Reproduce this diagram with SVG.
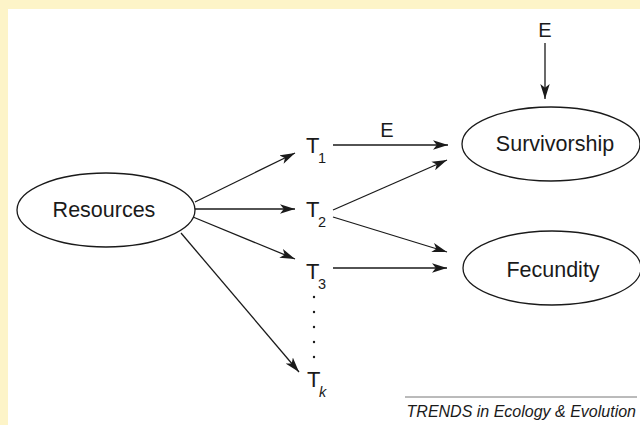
<svg xmlns="http://www.w3.org/2000/svg" width="640" height="425" viewBox="0 0 640 425">
<style>
.lbl{font-family:"Liberation Sans",Arial,sans-serif;font-size:21.5px;fill:#1a1a1a}
.t{font-family:"Liberation Sans",Arial,sans-serif;font-size:22px;fill:#1a1a1a}
.sub{font-family:"Liberation Sans",Arial,sans-serif;font-size:14.5px;fill:#1a1a1a}
.node{fill:#fff;stroke:#1a1a1a;stroke-width:1.3}
.c{stroke:#1a1a1a;stroke-width:1.3;fill:none;marker-end:url(#ah)}
</style>
<defs>
<marker id="ah" viewBox="0 0 15 10" refX="15" refY="5" markerWidth="15" markerHeight="10" markerUnits="userSpaceOnUse" orient="auto">
<path d="M0,0.3 L15,5 L0,9.7 L3.8,5 z" fill="#1a1a1a"/>
</marker>
</defs>
<rect x="0" y="0" width="640" height="425" fill="#fdf4c8"/>
<rect x="8" y="9" width="632" height="416" fill="#fff"/>
<g id="connectors">
<line class="c" x1="195" y1="202" x2="295" y2="153"/>
<line class="c" x1="195" y1="209" x2="295" y2="209"/>
<line class="c" x1="193" y1="217" x2="295" y2="259"/>
<line class="c" x1="181" y1="233" x2="299" y2="372"/>
<line class="c" x1="333" y1="145" x2="448" y2="145"/>
<line class="c" x1="333" y1="210" x2="447" y2="160"/>
<line class="c" x1="333" y1="217" x2="447" y2="252"/>
<line class="c" x1="333" y1="268" x2="447" y2="268"/>
<line class="c" x1="545" y1="43" x2="545" y2="99"/>
<text class="lbl" x="387" y="137" text-anchor="middle" style="font-size:20px">E</text>
</g>
<g id="resources">
<ellipse class="node" cx="106" cy="210" rx="89" ry="37"/>
<text class="lbl" x="104" y="217" text-anchor="middle">Resources</text>
</g>
<g id="survivorship">
<ellipse class="node" cx="551" cy="144" rx="89" ry="37"/>
<text class="lbl" x="555" y="151" text-anchor="middle">Survivorship</text>
</g>
<g id="fecundity">
<ellipse class="node" cx="552" cy="268" rx="89" ry="37"/>
<text class="lbl" x="553" y="277" text-anchor="middle">Fecundity</text>
</g>
<g id="E-top">
<text class="lbl" x="545" y="37" text-anchor="middle" style="font-size:20px">E</text>
</g>
<g id="T1"><text class="t" x="306" y="153">T</text><text class="sub" x="318" y="163">1</text></g>
<g id="T2"><text class="t" x="306" y="217">T</text><text class="sub" x="318" y="227">2</text></g>
<g id="T3"><text class="t" x="306" y="279">T</text><text class="sub" x="318" y="289">3</text></g>
<g id="dots" fill="#1a1a1a">
<circle cx="314" cy="297" r="1.2"/>
<circle cx="314" cy="312" r="1.2"/>
<circle cx="314" cy="327" r="1.2"/>
<circle cx="314" cy="342" r="1.2"/>
<circle cx="314" cy="357" r="1.2"/>
</g>
<g id="Tk"><text class="t" x="307" y="387">T</text><text class="sub" x="319" y="397" font-style="italic">k</text></g>
<g id="footer">
<line x1="405" y1="397" x2="637" y2="397" stroke="#777" stroke-width="1"/>
<text x="636" y="417" text-anchor="end" font-family="'Liberation Sans',Arial,sans-serif" font-style="italic" font-size="16" fill="#1a1a1a">TRENDS in Ecology &amp; Evolution</text>
</g>
</svg>
